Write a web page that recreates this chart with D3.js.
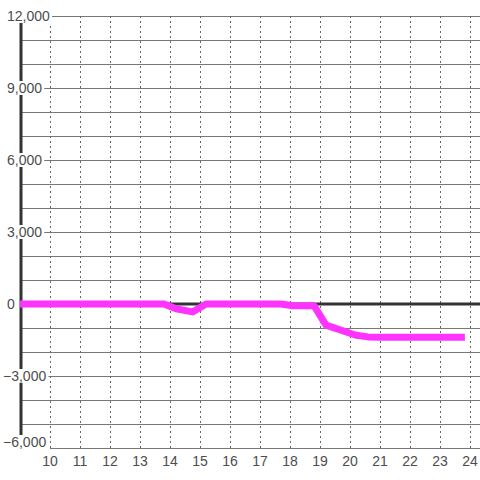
<!DOCTYPE html>
<html>
<head>
<meta charset="utf-8">
<script src="https://cdn.jsdelivr.net/npm/d3@7"></script>
<style>
    body { margin: 0; background: #fff; }
    text { font-family: "Liberation Sans", Arial, sans-serif; }
</style>
</head>
<body>
<div id="chart"></div>
<script>
// hours and value series
let hours = [9, 13.8, 14.2, 14.75, 15.2, 17.7, 18.1, 18.8, 19.2, 20.2, 20.6, 21, 23.83];
let values = [0, 0, -200, -330, 0, 0, -70, -70, -880, -1300, -1370, -1390, -1390];

let xTicks = [10, 11, 12, 13, 14, 15, 16, 17, 18, 19, 20, 21, 22, 23, 24];
let yGrid = d3.range(-6000, 12001, 1000);
let yLabels = [12000, 9000, 6000, 3000, 0, -3000, -6000];

let width = 480, height = 480;

let svg = d3.select("#chart").append("svg")
    .attr("width", width)
    .attr("height", height);

let x = d3.scaleLinear().domain([9, 24 + 1 / 3]).range([20, 480]);
let y = d3.scaleLinear().domain([-6000, 12000]).range([448, 16]);

let fmt = d3.format(",");

// horizontal grid
svg.append("g").selectAll("line")
    .data(yGrid.filter(function (d) { return d !== 0 && d !== -6000; }))
    .enter().append("line")
    .attr("x1", 20).attr("x2", 480)
    .attr("y1", function (d) { return y(d); })
    .attr("y2", function (d) { return y(d); })
    .attr("stroke", "#777")
    .attr("stroke-width", 1)
    .attr("shape-rendering", "crispEdges");

// bottom line
svg.append("line")
    .attr("x1", x(10)).attr("x2", 480)
    .attr("y1", y(-6000)).attr("y2", y(-6000))
    .attr("stroke", "#777")
    .attr("shape-rendering", "crispEdges");

// vertical dashed grid
svg.append("g").selectAll("line")
    .data(xTicks)
    .enter().append("line")
    .attr("x1", function (d) { return x(d); })
    .attr("x2", function (d) { return x(d); })
    .attr("y1", y(12000)).attr("y2", y(-6000))
    .attr("stroke", "#666")
    .attr("stroke-dasharray", "2,3")
    .attr("shape-rendering", "crispEdges");

// left axis bar
svg.append("line")
    .attr("x1", 21).attr("x2", 21)
    .attr("y1", y(12000)).attr("y2", y(-6000))
    .attr("stroke", "#333")
    .attr("stroke-width", 3);

// zero line
svg.append("line")
    .attr("x1", 20).attr("x2", 480)
    .attr("y1", y(0)).attr("y2", y(0))
    .attr("stroke", "#333")
    .attr("stroke-width", 3);

// y labels with white boxes
let yl = svg.append("g").selectAll("g")
    .data(yLabels)
    .enter().append("g")
    .attr("transform", function (d) {
        let yy = y(d);
        if (d === -6000) yy -= 6;
        return "translate(0," + yy + ")";
    });

yl.append("text")
    .attr("x", function (d) { return d < 0 ? 3 : 7; })
    .attr("dy", "0.36em")
    .attr("fill", "#4d4d4d")
    .style("font-size", "14px")
    .text(function (d) { return fmt(d); })
    .each(function () {
        let bb = this.getBBox();
        d3.select(this.parentNode).insert("rect", "text")
            .attr("x", 0)
            .attr("y", -7)
            .attr("width", bb.x + bb.width + 2)
            .attr("height", 14)
            .attr("fill", "#fff");
    });

// x labels
svg.append("g").selectAll("text")
    .data(xTicks)
    .enter().append("text")
    .attr("x", function (d) { return x(d); })
    .attr("y", 466)
    .attr("text-anchor", "middle")
    .attr("fill", "#4d4d4d")
    .style("font-size", "14px")
    .text(function (d) { return d; });

// series line
let line = d3.line()
    .x(function (d, i) { return x(hours[i]); })
    .y(function (d) { return y(d); });

svg.append("path")
    .datum(values)
    .attr("d", line)
    .attr("fill", "none")
    .attr("stroke", "#ff33ff")
    .attr("stroke-width", 7)
    .attr("stroke-linejoin", "round");
</script>
</body>
</html>
